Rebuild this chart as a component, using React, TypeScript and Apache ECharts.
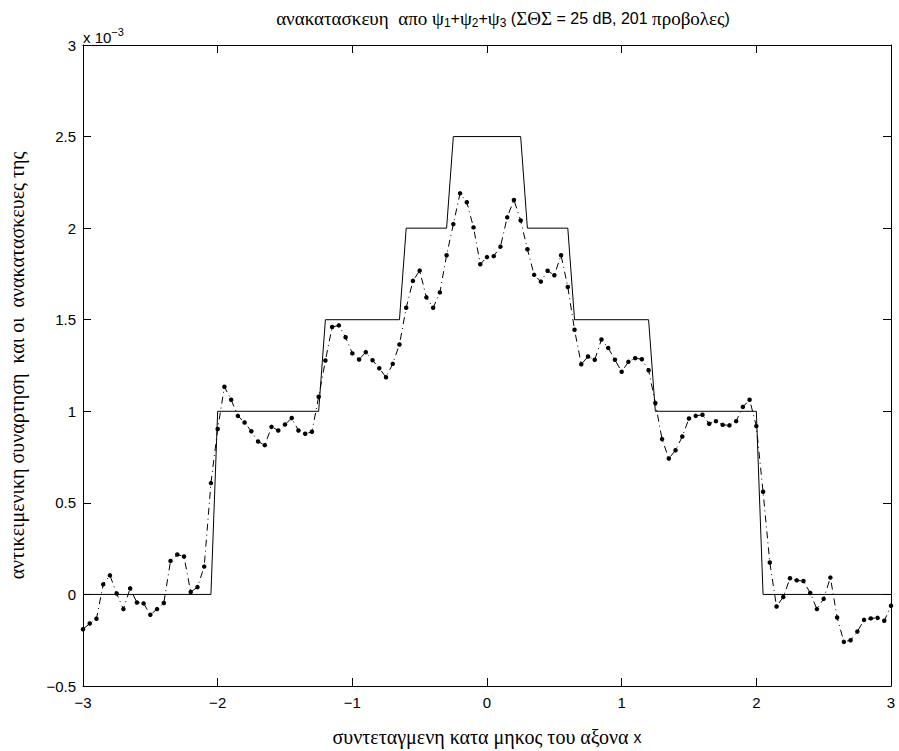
import React, { useEffect, useRef } from 'react';
import * as echarts from 'echarts';

// x coordinate samples (reconstruction grid)
const reconX = [
  -3, -2.95, -2.9, -2.85, -2.8, -2.75, -2.7, -2.65, -2.6, -2.55,
  -2.5, -2.45, -2.4, -2.35, -2.3, -2.25, -2.2, -2.15, -2.1, -2.05,
  -2, -1.95, -1.9, -1.85, -1.8, -1.75, -1.7, -1.65, -1.6, -1.55,
  -1.5, -1.45, -1.4, -1.35, -1.3, -1.25, -1.2, -1.15, -1.1, -1.05,
  -1, -0.95, -0.9, -0.85, -0.8, -0.75, -0.7, -0.65, -0.6, -0.55,
  -0.5, -0.45, -0.4, -0.35, -0.3, -0.25, -0.2, -0.15, -0.1, -0.05,
  0, 0.05, 0.1, 0.15, 0.2, 0.25, 0.3, 0.35, 0.4, 0.45,
  0.5, 0.55, 0.6, 0.65, 0.7, 0.75, 0.8, 0.85, 0.9, 0.95,
  1, 1.05, 1.1, 1.15, 1.2, 1.25, 1.3, 1.35, 1.4, 1.45,
  1.5, 1.55, 1.6, 1.65, 1.7, 1.75, 1.8, 1.85, 1.9, 1.95,
  2, 2.05, 2.1, 2.15, 2.2, 2.25, 2.3, 2.35, 2.4, 2.45,
  2.5, 2.55, 2.6, 2.65, 2.7, 2.75, 2.8, 2.85, 2.9, 2.95,
  3,
];

// reconstruction values (units of 1e-3)
const reconY = [
  -0.19, -0.159, -0.133, 0.055, 0.104, 0.005, -0.08, 0.033, -0.044, -0.049,
  -0.111, -0.08, -0.047, 0.183, 0.218, 0.207, 0.013, 0.04, 0.152, 0.608,
  0.903, 1.134, 1.063, 0.975, 0.939, 0.891, 0.835, 0.815, 0.915, 0.895,
  0.928, 0.963, 0.895, 0.877, 0.888, 1.079, 1.277, 1.46, 1.469, 1.404,
  1.316, 1.283, 1.323, 1.279, 1.235, 1.186, 1.259, 1.365, 1.565, 1.712,
  1.768, 1.622, 1.565, 1.649, 1.852, 2.022, 2.19, 2.141, 2.004, 1.803,
  1.842, 1.847, 1.899, 2.059, 2.154, 2.042, 1.885, 1.745, 1.708, 1.767,
  1.743, 1.852, 1.679, 1.445, 1.257, 1.299, 1.281, 1.392, 1.346, 1.281,
  1.216, 1.27, 1.29, 1.284, 1.224, 1.045, 0.848, 0.742, 0.787, 0.862,
  0.961, 0.975, 0.981, 0.932, 0.946, 0.926, 0.923, 0.946, 1.024, 1.063,
  0.919, 0.561, 0.174, -0.066, -0.014, 0.088, 0.077, 0.073, 0.008, -0.08,
  -0.024, 0.092, -0.126, -0.259, -0.25, -0.203, -0.139, -0.131, -0.128, -0.144,
  -0.062,
];

// object function (piecewise constant), breakpoints
const stepX = [-3, -2.05, -2, -1.25, -1.2, -0.65, -0.6, -0.3, -0.25, 0.25, 0.3, 0.6, 0.65, 1.2, 1.25, 2, 2.05, 3];
const stepY = [0, 0, 1, 1, 1.5, 1.5, 2, 2, 2.5, 2.5, 2, 2, 1.5, 1.5, 1, 1, 0, 0];

const xTicks = { min: -3, max: 3, interval: 1 };
const yTicks = { min: -0.5, max: 3, interval: 0.5 };

const titleText =
  '{g|ανακατασκευη  απο ψ}{sub|1}{n|+}{g|ψ}{sub|2}{n|+}{g|ψ}{sub|3}{n| (}{g|ΣΘΣ}{n| = 25 dB, 201 }{g|προβολες}{n|)}';
const xLabel = '{g|συντεταγμενη κατα μηκος του αξονα }{n|x}';
const yLabel = 'αντικειμενικη συναρτηση  και οι  ανακατασκευες της';
const scaleLabel = '{n|x 10}{sup|−3}';

const SANS = 'Liberation Sans';
const SERIF = 'Liberation Serif';

const fmt = (v: number) => (v < 0 ? '−' + String(Math.abs(v)) : String(v));

export default function App() {
  const ref = useRef<HTMLDivElement>(null);
  useEffect(() => {
    if (!ref.current) return;
    const chart = echarts.init(ref.current, undefined, { renderer: 'svg' });
    const left = 83, top = 45, width = 808, height = 641;
    const axisCommon = {
      type: 'value' as const,
      axisLine: { show: true, onZero: false, lineStyle: { color: '#000', width: 1 } },
      axisTick: { show: true, inside: true, length: 8, lineStyle: { color: '#000', width: 1 } },
      splitLine: { show: false },
    };
    const labelStyle = { color: '#000', fontFamily: SANS, fontSize: 15 };
    chart.setOption({
      animation: false,
      backgroundColor: '#fff',
      grid: { left, top, width, height, show: false },
      xAxis: [
        { ...axisCommon, ...xTicks, position: 'bottom', axisLabel: { ...labelStyle, margin: 9, formatter: fmt } },
        { ...axisCommon, ...xTicks, position: 'top', axisLabel: { show: false } },
      ],
      yAxis: [
        { ...axisCommon, ...yTicks, position: 'left', axisLabel: { ...labelStyle, margin: 7, formatter: fmt } },
        { ...axisCommon, ...yTicks, position: 'right', axisLabel: { show: false } },
      ],
      series: [
        {
          type: 'line',
          data: stepX.map((x, i) => [x, stepY[i]]),
          symbol: 'none',
          lineStyle: { color: '#000', width: 1 },
        },
        {
          type: 'line',
          data: reconX.map((x, i) => [x, reconY[i]]),
          symbol: 'circle',
          symbolSize: 4.5,
          itemStyle: { color: '#000' },
          lineStyle: { color: '#000', width: 1, type: [7, 4, 1, 4] },
        },
      ],
      graphic: [
        {
          type: 'text',
          x: 503,
          y: 18,
          style: {
            text: titleText,
            align: 'center',
            verticalAlign: 'middle',
            fill: '#000',
            rich: {
              g: { fontFamily: SERIF, fontSize: 19, fill: '#000' },
              n: { fontFamily: SANS, fontSize: 16, fill: '#000' },
              sub: { fontFamily: SANS, fontSize: 12, fill: '#000', padding: [10, 0, 0, 0] },
            },
          },
        },
        {
          type: 'text',
          x: 487,
          y: 737,
          style: {
            text: xLabel,
            align: 'center',
            verticalAlign: 'middle',
            fill: '#000',
            rich: {
              g: { fontFamily: SERIF, fontSize: 20, fill: '#000' },
              n: { fontFamily: SANS, fontSize: 16, fill: '#000' },
            },
          },
        },
        {
          type: 'text',
          x: 17,
          y: top + height / 2,
          rotation: Math.PI / 2,
          style: {
            text: yLabel,
            align: 'center',
            verticalAlign: 'middle',
            fill: '#000',
            fontFamily: SERIF,
            fontSize: 20,
          },
        },
        {
          type: 'text',
          x: left,
          y: 37,
          style: {
            text: scaleLabel,
            align: 'left',
            verticalAlign: 'middle',
            fill: '#000',
            rich: {
              n: { fontFamily: SANS, fontSize: 15, fill: '#000' },
              sup: { fontFamily: SANS, fontSize: 11, fill: '#000', padding: [0, 0, 11, 0] },
            },
          },
        },
      ],
    });
    return () => chart.dispose();
  }, []);
  return (
    <div
      ref={ref}
      style={{ position: 'fixed', left: 0, top: 0, width: 899, height: 751, background: '#fff' }}
    />
  );
}
